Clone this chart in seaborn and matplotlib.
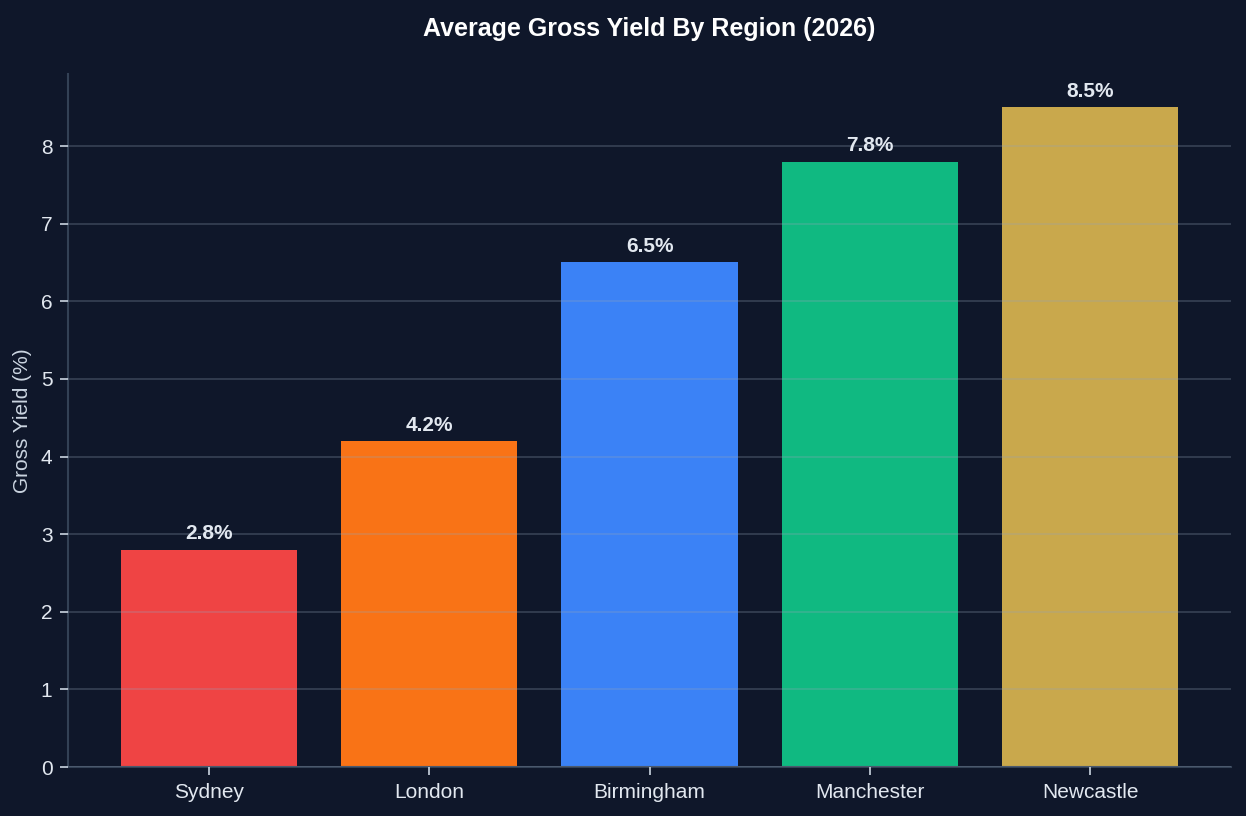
import matplotlib.pyplot as plt
import pandas as pd
import seaborn as sns

regions = ["Sydney", "London", "Birmingham", "Manchester", "Newcastle"]
gross_yield = [2.8, 4.2, 6.5, 7.8, 8.5]
bar_colors = ["#ef4444", "#f97316", "#3b82f6", "#10b981", "#c9a84c"]

BG = "#0f172a"
TEXT = "#e2e8f0"

df = pd.DataFrame({"region": regions, "gross_yield": gross_yield})

sns.set_theme(style="dark")
plt.rcParams["font.family"] = ["Liberation Sans", "DejaVu Sans"]

fig, ax = plt.subplots(figsize=(1246 / 150, 816 / 150), dpi=150)
fig.patch.set_facecolor(BG)
ax.set_facecolor(BG)

sns.barplot(
    data=df,
    x="region",
    y="gross_yield",
    hue="region",
    palette=bar_colors,
    legend=False,
    width=0.8,
    saturation=1,
    linewidth=0,
    edgecolor="none",
    ax=ax,
)

for patch, val in zip(ax.patches, gross_yield):
    ax.annotate(
        f"{val}%",
        (patch.get_x() + patch.get_width() / 2, patch.get_height()),
        xytext=(0, 3),
        textcoords="offset points",
        ha="center",
        va="bottom",
        fontsize=10,
        fontweight="bold",
        color=TEXT,
    )

ax.set_xlim(-0.64, 4.64)
ax.set_ylim(0, 8.925)
ax.set_title("Average Gross Yield By Region (2026)", fontsize=12,
             fontweight="bold", color="white", pad=18.5)
ax.set_xlabel("")
ax.set_ylabel("Gross Yield (%)", fontsize=10, color="#cbd5e1")

ax.yaxis.grid(True, color="#94a3b8", alpha=0.3, linewidth=0.8)
ax.xaxis.grid(False)
ax.set_axisbelow(False)

for side in ["top", "right"]:
    ax.spines[side].set_visible(False)
for side in ["left", "bottom"]:
    ax.spines[side].set_color("#334155")
    ax.spines[side].set_linewidth(1.0)

ax.tick_params(axis="both", colors="#cbd5e1", labelcolor=TEXT, labelsize=10,
               length=4, width=0.8, left=True, bottom=True)

plt.subplots_adjust(left=0.0546, right=0.988, bottom=0.060, top=0.909)
plt.savefig("out.png", dpi=150, facecolor=BG)
